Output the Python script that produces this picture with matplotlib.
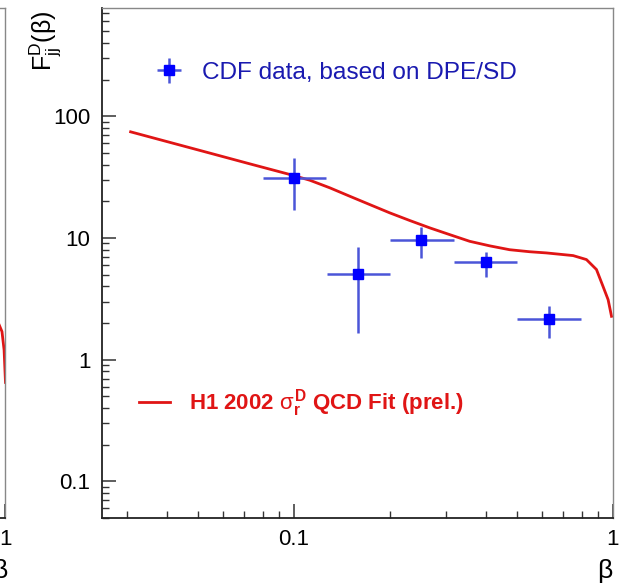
import numpy as np
import matplotlib
matplotlib.use('Agg')
import matplotlib.pyplot as plt

plt.rcParams['font.family'] = ['Liberation Sans', 'DejaVu Sans']
plt.rcParams['mathtext.fontset'] = 'custom'
plt.rcParams['mathtext.rm'] = 'Liberation Sans'
plt.rcParams['mathtext.it'] = 'Liberation Sans'
plt.rcParams['mathtext.bf'] = 'Liberation Sans:bold'

# CDF data points (beta bins and F_jj^D)
beta_cdf = [0.1, 0.159, 0.251, 0.4, 0.632]
beta_lo = [0.08, 0.127, 0.201, 0.318, 0.5]
beta_hi = [0.126, 0.2, 0.317, 0.5, 0.794]
F_cdf = [31, 5.1, 9.6, 6.3, 2.15]
F_lo = [17, 1.67, 6.9, 4.75, 1.52]
F_hi = [45, 8.4, 12.2, 7.6, 2.75]

# H1 2002 QCD fit curve
beta_fit = [0.0308, 0.0545, 0.0728, 0.0972, 0.1122, 0.1297, 0.1498, 0.173,
            0.2, 0.231, 0.267, 0.308, 0.356, 0.412, 0.475, 0.549, 0.619,
            0.751, 0.827, 0.889, 0.932, 0.967, 0.991]
F_fit = [74.4, 49.8, 40.6, 33.2, 29.8, 25.8, 22.0, 18.8,
         16.06, 13.9, 12.09, 10.65, 9.38, 8.6, 8.0, 7.7, 7.53,
         7.16, 6.64, 5.5, 4.0, 3.11, 2.27]

# neighbouring panel (only its right edge is visible)
beta_left = [0.9, 0.95, 0.975, 0.99, 1.0]
F_left = [2.4, 2.0, 1.7, 1.2, 0.65]

blue = '#0000ff'
errblue = '#4b55d8'
red = '#e01515'

fig = plt.figure(figsize=(6.24, 5.85), dpi=100)

def style_axes(ax):
    ax.set_xscale('log')
    ax.set_yscale('log')
    ax.set_xlim(0.025, 1)
    ax.set_ylim(0.05, 780)
    ax.tick_params(which='both', direction='in', top=False, right=False,
                   color='#333333', labelsize=16, pad=8)
    ax.tick_params(which='major', length=10, width=1.1)
    ax.tick_params(which='minor', length=5, width=1.0)
    for s in ['left', 'bottom']:
        ax.spines[s].set_color('#222222')
        ax.spines[s].set_linewidth(1.3)
    for s in ['top', 'right']:
        ax.spines[s].set_color('#888888')
        ax.spines[s].set_linewidth(1.0)

# left, cut-off panel
axl = fig.add_axes([0.0088 - 0.819, 0.1145, 0.819, 0.8725])
style_axes(axl)
axl.plot(beta_left, F_left, color=red, lw=2)
axl.set_xticks([1])
axl.set_xticklabels(['1'])
axl.set_yticklabels([])

# main panel
ax = fig.add_axes([0.163, 0.1145, 0.819, 0.8725])
style_axes(ax)

xerr = [np.array(beta_cdf) - np.array(beta_lo), np.array(beta_hi) - np.array(beta_cdf)]
yerr = [np.array(F_cdf) - np.array(F_lo), np.array(F_hi) - np.array(F_cdf)]

line_fit, = ax.plot(beta_fit, F_fit, color=red, lw=2, zorder=2)
eb = ax.errorbar(beta_cdf, F_cdf, xerr=xerr, yerr=yerr, fmt='s', color=blue,
                 ms=7, ecolor=errblue, elinewidth=1.8, capsize=0, zorder=3)

ax.set_xticks([0.1, 1])
ax.set_xticklabels(['0.1', '1'])
ax.set_yticks([0.1, 1, 10, 100])
ax.set_yticklabels(['0.1', '1', '10', '100'])

leg1 = ax.legend([eb], ['CDF data, based on DPE/SD'], loc='center left',
                 bbox_to_anchor=(0.102, 0.872), frameon=False, fontsize=17.6,
                 borderpad=0, borderaxespad=0,
                 handlelength=1.23, handletextpad=0.75, labelcolor='#1a1ab0')
ax.add_artist(leg1)
ax.legend([line_fit], [r'H1 2002 $\sigma_{\mathbf{r}}^{\mathbf{D}}$ QCD Fit (prel.)'],
          loc='center left', bbox_to_anchor=(0.073, 0.225), frameon=False,
          borderpad=0, borderaxespad=0,
          prop={'weight': 'bold', 'size': 16}, handlelength=1.4,
          handletextpad=0.85, labelcolor=red)

fig.text(0.072, 0.93, r'F$_{\mathrm{jj}}^{\mathrm{D}}$($\beta$)', rotation=90,
         ha='center', va='center', fontsize=18)
fig.text(0.97, 0.024, r'$\beta$', ha='center', va='center', fontsize=19)
fig.text(0.0, 0.024, r'$\beta$', ha='center', va='center', fontsize=19)

fig.savefig('out.png', dpi=100)
